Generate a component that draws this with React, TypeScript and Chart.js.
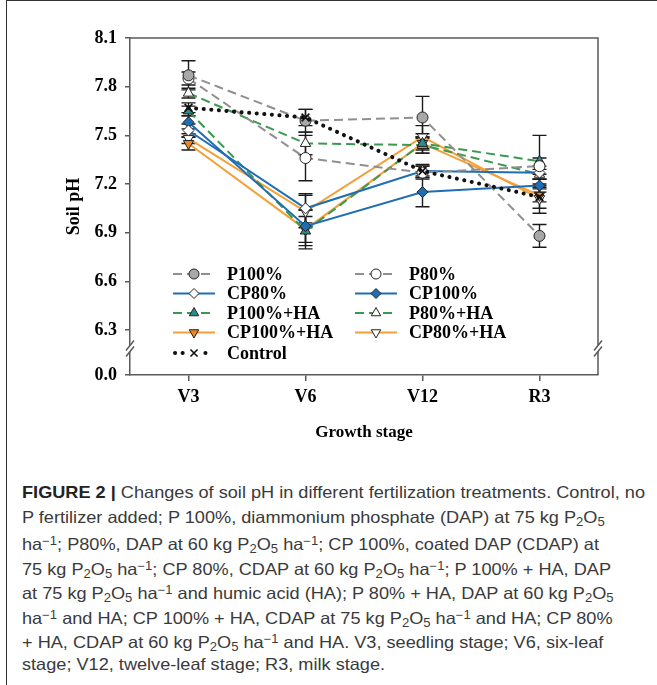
import React, { useEffect, useRef } from 'react';
import { Chart, registerables } from 'chart.js';
import { drawPoint } from 'chart.js/helpers';

Chart.register(...registerables);

// ---------- data ----------
const stages = ['V3', 'V6', 'V12', 'R3'];
const yTickValues = [6.3, 6.6, 6.9, 7.2, 7.5, 7.8, 8.1];
const yBase = 6.0225; // axis break: this position is labelled "0.0"
const yBaseLabel = '0.0';

const p100 = [7.87, 7.59, 7.61, 6.88];
const p100Err = [0.09, 0.07, 0.13, 0.07];
const p80 = [7.85, 7.36, 7.27, 7.31];
const p80Err = [0.04, 0.14, 0.04, 0.05];
const cp80 = [7.53, 7.05, 7.28, 7.27];
const cp80Err = [0.04, 0.09, 0.03, 0.04];
const cp100 = [7.58, 6.94, 7.15, 7.19];
const cp100Err = [0.04, 0.1, 0.09, 0.04];
const p100ha = [7.65, 6.91, 7.45, 7.34];
const p100haErr = [0.03, 0.09, 0.04, 0.16];
const p80ha = [7.76, 7.45, 7.44, 7.26];
const p80haErr = [0.03, 0.07, 0.05, 0.03];
const cp100ha = [7.45, 6.92, 7.45, 7.13];
const cp100haErr = [0.04, 0.12, 0.06, 0.04];
const cp80ha = [7.48, 7.03, 7.49, 7.11];
const cp80haErr = [0.03, 0.1, 0.07, 0.09];
const control = [7.67, 7.61, 7.28, 7.12];
const controlErr = [0.03, 0.05, 0.04, 0.07];

// ---------- styles ----------
const GRAY = '#8f8f8f';
const GRAY_FILL = '#a8a8a8';
const BLUE = '#1f6eb3';
const GREEN = '#3a9950';
const TEAL = '#2b8c8a';
const ORANGE = '#f4a038';
const ORANGE_FILL = '#ec861d';
const BLACK = '#111111';
const SERIF = '"Liberation Serif", "Times New Roman", serif';

type S = {
  label: string; data: number[]; errors: number[]; color: string; fill: string;
  dash: number[]; style: string; rot: number; width: number; cap?: string;
};

const series: S[] = [
  { label: 'Control', data: control, errors: controlErr, color: BLACK, fill: BLACK, dash: [0.1, 7.5], style: 'crossRot', rot: 0, width: 4, cap: 'round' },
  { label: 'P100%', data: p100, errors: p100Err, color: GRAY, fill: GRAY_FILL, dash: [9, 5], style: 'circle', rot: 0, width: 2 },
  { label: 'P80%', data: p80, errors: p80Err, color: GRAY, fill: '#ffffff', dash: [9, 5], style: 'circle', rot: 0, width: 2 },
  { label: 'CP80%', data: cp80, errors: cp80Err, color: BLUE, fill: '#ffffff', dash: [], style: 'rectRot', rot: 0, width: 2 },
  { label: 'CP100%', data: cp100, errors: cp100Err, color: BLUE, fill: BLUE, dash: [], style: 'rectRot', rot: 0, width: 2 },
  { label: 'P100%+HA', data: p100ha, errors: p100haErr, color: GREEN, fill: TEAL, dash: [9, 5], style: 'triangle', rot: 0, width: 2 },
  { label: 'P80%+HA', data: p80ha, errors: p80haErr, color: GREEN, fill: '#ffffff', dash: [9, 5], style: 'triangle', rot: 0, width: 2 },
  { label: 'CP100%+HA', data: cp100ha, errors: cp100haErr, color: ORANGE, fill: ORANGE_FILL, dash: [], style: 'triangle', rot: 180, width: 2 },
  { label: 'CP80%+HA', data: cp80ha, errors: cp80haErr, color: ORANGE, fill: '#ffffff', dash: [], style: 'triangle', rot: 180, width: 2 },
];

const legendLeft = ['P100%', 'CP80%', 'P100%+HA', 'CP100%+HA', 'Control'];
const legendRight = ['P80%', 'CP100%', 'P80%+HA', 'CP80%+HA'];

const markerRadius = (s: S) => (s.style === 'triangle' ? 6 : 5.5);

const errorBarPlugin = {
  id: 'errorBars',
  beforeDatasetsDraw(chart: any) {
    const ctx = chart.ctx;
    const ys = chart.scales.y;
    ctx.save();
    ctx.strokeStyle = '#1a1a1a';
    ctx.lineWidth = 1.4;
    ctx.setLineDash([]);
    chart.data.datasets.forEach((ds: any, i: number) => {
      const meta = chart.getDatasetMeta(i);
      meta.data.forEach((pt: any, j: number) => {
        const v = ds.data[j];
        const e = ds.errors[j];
        const x = pt.x;
        const yt = ys.getPixelForValue(v + e);
        const yb = ys.getPixelForValue(v - e);
        ctx.beginPath();
        ctx.moveTo(x, yt); ctx.lineTo(x, yb);
        ctx.moveTo(x - 7, yt); ctx.lineTo(x + 7, yt);
        ctx.moveTo(x - 7, yb); ctx.lineTo(x + 7, yb);
        ctx.stroke();
      });
    });
    ctx.restore();
  },
};

const framePlugin = {
  id: 'frame',
  afterDraw(chart: any) {
    const ctx = chart.ctx;
    const a = chart.chartArea;
    const ys = chart.scales.y;
    ctx.save();
    ctx.strokeStyle = '#5a5a5a';
    ctx.lineWidth = 1.5;
    ctx.setLineDash([]);
    ctx.beginPath();
    ctx.moveTo(a.left, a.top);
    ctx.lineTo(a.right, a.top);
    ctx.lineTo(a.right, a.bottom);
    ctx.stroke();
    // axis breaks
    const yc = (ys.getPixelForValue(6.3) + ys.getPixelForValue(yBase)) / 2 - 4;
    [a.left, a.right].forEach((x) => {
      ctx.fillStyle = '#ffffff';
      ctx.fillRect(x - 2, yc - 3, 4, 6);
      ctx.beginPath();
      ctx.moveTo(x - 4, yc - 3 + 5); ctx.lineTo(x + 4, yc - 3 - 5);
      ctx.moveTo(x - 4, yc + 3 + 5); ctx.lineTo(x + 4, yc + 3 - 5);
      ctx.stroke();
    });
    ctx.restore();
  },
};

const legendPlugin = {
  id: 'customLegend',
  afterDraw(chart: any) {
    const ctx = chart.ctx;
    const rowsY = [274, 293.5, 313, 332.5, 353];
    const drawItem = (label: string, x0: number, y: number) => {
      const s = series.find((q) => q.label === label)!;
      ctx.save();
      ctx.strokeStyle = s.color;
      ctx.lineWidth = s.width;
      ctx.lineCap = (s.cap as any) || 'butt';
      ctx.setLineDash(s.dash);
      ctx.beginPath();
      if (s.label === 'Control') {
        ctx.moveTo(x0 + 2, y); ctx.lineTo(x0 + 40, y);
      } else {
        ctx.moveTo(x0, y); ctx.lineTo(x0 + 42, y);
      }
      ctx.stroke();
      ctx.setLineDash([]);
      ctx.lineCap = 'butt';
      if (s.label === 'Control') {
        ctx.fillStyle = '#ffffff';
        ctx.fillRect(x0 + 15, y - 5, 12, 10);
      }
      ctx.fillStyle = s.fill;
      ctx.strokeStyle = s.label === 'Control' ? BLACK : '#222';
      ctx.lineWidth = s.label === 'Control' ? 1.6 : 1;
      drawPoint(ctx, { pointStyle: s.style, rotation: s.rot, radius: markerRadius(s) - 0.5, borderWidth: 1 } as any, x0 + 21, y);
      ctx.fillStyle = '#000';
      ctx.font = `bold 18px ${SERIF}`;
      ctx.textBaseline = 'middle';
      ctx.textAlign = 'left';
      ctx.fillText(s.label, x0 + 54, y + 1);
      ctx.restore();
    };
    legendLeft.forEach((l, i) => drawItem(l, 173, rowsY[i]));
    legendRight.forEach((l, i) => drawItem(l, 355, rowsY[i]));
  },
};

function ChartPanel() {
  const ref = useRef<HTMLCanvasElement | null>(null);
  useEffect(() => {
    if (!ref.current) return;
    const chart = new Chart(ref.current, {
      type: 'line',
      data: {
        labels: stages,
        datasets: series.map((s) => ({
          label: s.label,
          data: s.data,
          errors: s.errors,
          borderColor: s.color,
          borderWidth: s.width,
          borderDash: s.dash,
          borderCapStyle: (s.cap as any) || 'butt',
          backgroundColor: s.fill,
          pointStyle: s.style as any,
          pointRotation: s.rot,
          pointRadius: markerRadius(s),
          pointBackgroundColor: s.fill,
          pointBorderColor: s.label === 'Control' ? BLACK : '#222',
          pointBorderWidth: s.label === 'Control' ? 1.6 : 1,
          tension: 0,
          fill: false,
        })) as any,
      },
      options: {
        responsive: false,
        animation: false,
        devicePixelRatio: 1,
        layout: { padding: { left: 0, right: 59, top: 38, bottom: 0 } },
        plugins: { legend: { display: false }, tooltip: { enabled: false } },
        scales: {
          x: {
            type: 'category',
            offset: true,
            grid: { drawOnChartArea: false, drawTicks: true, tickLength: 6, color: '#5a5a5a', offset: false, lineWidth: 1.5 },
            border: { display: true, color: '#5a5a5a', width: 1.5 },
            ticks: { color: '#000', font: { family: SERIF, size: 18, weight: 'bold' }, padding: 6 },
            title: { display: true, text: 'Growth stage', color: '#000', font: { family: SERIF, size: 17, weight: 'bold' }, padding: { top: 0, bottom: 12 } },
            afterFit: (sc: any) => { sc.height = 80; },
          },
          y: {
            type: 'linear',
            min: yBase,
            max: 8.1,
            grid: { drawOnChartArea: false, drawTicks: true, tickLength: 5, color: '#5a5a5a', lineWidth: 1.5 },
            border: { display: true, color: '#5a5a5a', width: 1.5 },
            afterBuildTicks: (sc: any) => {
              sc.ticks = [yBase, ...yTickValues].map((v) => ({ value: v }));
            },
            ticks: {
              color: '#000',
              font: { family: SERIF, size: 18, weight: 'bold' },
              padding: 8,
              callback: (v: any) => (Math.abs(v - yBase) < 1e-6 ? yBaseLabel : Number(v).toFixed(1)),
            },
            title: { display: true, text: 'Soil pH', color: '#000', font: { family: SERIF, size: 18, weight: 'bold' }, padding: { top: 64, bottom: 0 } },
            afterFit: (sc: any) => { sc.width = 130; },
          },
        },
      } as any,
      plugins: [errorBarPlugin, framePlugin, legendPlugin],
    });
    return () => chart.destroy();
  }, []);
  return <canvas ref={ref} width={657} height={455} style={{ position: 'absolute', left: 0, top: 0, width: 657, height: 455 }} />;
}

const Sub = ({ c }: { c: string }) => <span style={{ fontSize: '0.72em', verticalAlign: '-0.25em' }}>{c}</span>;
const Sup = ({ c }: { c: string }) => <span style={{ fontSize: '0.72em', verticalAlign: '0.45em' }}>{c}</span>;
const P2O5 = () => (<>P<Sub c="2" />O<Sub c="5" /></>);
const HA1 = () => (<>ha<Sup c="−1" /></>);

export default function App() {
  const capRef = useRef<HTMLDivElement | null>(null);
  const firstRef = useRef<HTMLSpanElement | null>(null);
  useEffect(() => {
    if (capRef.current && firstRef.current) {
      const w = firstRef.current.getBoundingClientRect().width;
      if (w > 0) capRef.current.style.transform = `scaleX(${623 / w})`;
    }
  }, []);
  const lineStyle: React.CSSProperties = { whiteSpace: 'nowrap', height: 24.5, lineHeight: '24.5px' };
  return (
    <div style={{ position: 'absolute', left: 0, top: 0, width: 657, height: 685, background: '#fff', overflow: 'hidden' }}>
      <div style={{ position: 'absolute', left: 6, top: 0, width: 700, height: 700, borderLeft: '1.5px solid #333', borderTop: '1.5px solid #333' }} />
      <ChartPanel />
      <div
        ref={capRef}
        style={{ position: 'absolute', left: 22, top: 480, transformOrigin: 'left top', fontFamily: '"Liberation Sans", Arial, sans-serif', fontSize: 16.5, color: '#3a3a3a' }}
      >
        <div style={lineStyle}><span ref={firstRef}><b style={{ color: '#222' }}>FIGURE 2 |</b> Changes of soil pH in different fertilization treatments. Control, no</span></div>
        <div style={lineStyle}>P fertilizer added; P 100%, diammonium phosphate (DAP) at 75 kg <P2O5 /></div>
        <div style={lineStyle}><HA1 />; P80%, DAP at 60 kg <P2O5 /> <HA1 />; CP 100%, coated DAP (CDAP) at</div>
        <div style={lineStyle}>75 kg <P2O5 /> <HA1 />; CP 80%, CDAP at 60 kg <P2O5 /> <HA1 />; P 100% + HA, DAP</div>
        <div style={lineStyle}>at 75 kg <P2O5 /> <HA1 /> and humic acid (HA); P 80% + HA, DAP at 60 kg <P2O5 /></div>
        <div style={lineStyle}><HA1 /> and HA; CP 100% + HA, CDAP at 75 kg <P2O5 /> <HA1 /> and HA; CP 80%</div>
        <div style={lineStyle}>+ HA, CDAP at 60 kg <P2O5 /> <HA1 /> and HA. V3, seedling stage; V6, six-leaf</div>
        <div style={lineStyle}>stage; V12, twelve-leaf stage; R3, milk stage.</div>
      </div>
    </div>
  );
}
